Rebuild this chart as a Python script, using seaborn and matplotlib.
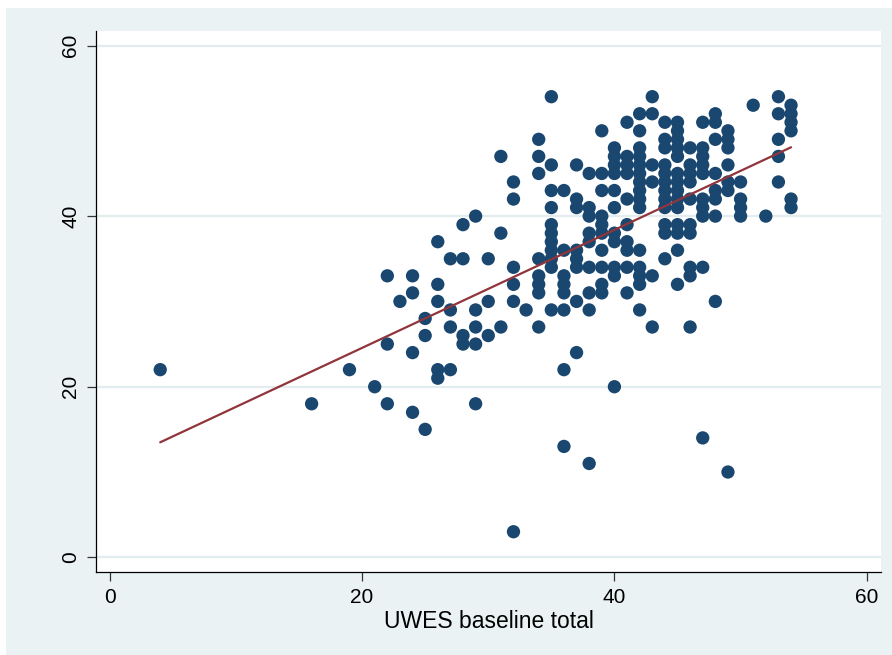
import numpy as np
import pandas as pd
import matplotlib
matplotlib.use("Agg")
import matplotlib.pyplot as plt
import seaborn as sns
from matplotlib.patches import Rectangle

# UWES baseline total (x) and follow-up total (y), one list per x value
points = {
    4: [22],
    16: [18],
    19: [22],
    21: [20],
    22: [33, 25, 18],
    23: [30],
    24: [33, 31, 24, 17],
    25: [28, 26, 15],
    26: [37, 32, 30, 22, 21],
    27: [35, 29, 27, 22],
    28: [39, 35, 26, 25],
    29: [40, 29, 27, 25, 18],
    30: [35, 30, 26],
    31: [47, 38, 27],
    32: [44, 42, 34, 32, 30, 3],
    33: [29],
    34: [49, 47, 45, 35, 33, 32, 31, 27],
    35: [54, 46, 43, 41, 39, 38, 37, 36, 35, 34, 29],
    36: [43, 36, 33, 32, 31, 29, 22, 13],
    37: [46, 42, 41, 36, 35, 34, 30, 24],
    38: [45, 41, 40, 38, 37, 34, 31, 29, 11],
    39: [50, 45, 43, 40, 39, 38, 36, 34, 32, 31],
    40: [48, 47, 46, 45, 43, 41, 38, 37, 34, 33, 20],
    41: [51, 47, 46, 45, 42, 39, 37, 36, 34, 31],
    42: [52, 50, 48, 47, 46, 45, 44, 43, 42, 41, 36, 34, 33, 32, 29],
    43: [54, 52, 46, 44, 33, 27],
    44: [51, 49, 48, 46, 45, 44, 43, 42, 41, 39, 38, 35],
    45: [51, 50, 49, 48, 47, 45, 44, 43, 42, 41, 39, 38, 36, 32],
    46: [48, 46, 45, 44, 42, 39, 38, 34, 33, 27],
    47: [51, 48, 47, 46, 45, 42, 41, 40, 34, 14],
    48: [52, 51, 49, 45, 43, 42, 40, 30],
    49: [50, 49, 48, 46, 44, 43, 10],
    50: [44, 42, 41, 40],
    51: [53],
    52: [40],
    53: [54, 52, 49, 47, 44],
    54: [53, 52, 51, 50, 42, 41],
}
baseline = [x for x, ys in points.items() for _ in ys]
followup = [y for ys in points.values() for y in ys]

x_ticks = [0, 20, 40, 60]
y_ticks = [0, 20, 40, 60]
x_label = "UWES baseline total"

df = pd.DataFrame({"baseline": baseline, "followup": followup})

BG = "#EAF2F3"
GRID = "#E3EDEF"
NAVY = "#1A476F"
MAROON = "#90353B"

sns.set_theme(style="white")
plt.rcParams["font.family"] = ["Liberation Sans", "DejaVu Sans"]

fig = plt.figure(figsize=(8.92, 6.55), dpi=100, facecolor="white")
fig.patches.append(Rectangle((6 / 892, 0), 1, 1 - 8 / 655, transform=fig.transFigure,
                             facecolor=BG, edgecolor="none", zorder=-10))
ax = fig.add_axes([96 / 892, 1 - 572 / 655, (881 - 96) / 892, (572 - 31) / 655])
ax.set_facecolor("white")

sns.scatterplot(data=df, x="baseline", y="followup", ax=ax, color=NAVY,
                s=92, linewidth=0, edgecolor="none", zorder=3)
sns.regplot(data=df, x="baseline", y="followup", ax=ax, scatter=False, ci=None,
            truncate=True, line_kws={"color": MAROON, "lw": 1.6, "zorder": 4})

ax.set_xlim(-1.09, 61.13)
ax.set_ylim(-1.72, 61.7)
ax.set_xticks(x_ticks)
ax.set_yticks(y_ticks)
ax.set_xticklabels([str(t) for t in x_ticks])
ax.set_yticklabels([str(t) for t in y_ticks], rotation=90, va="center")
ax.yaxis.grid(True, color=GRID, lw=1.6, zorder=0)
ax.xaxis.grid(False)
ax.set_axisbelow(True)

for side in ["top", "right"]:
    ax.spines[side].set_visible(False)
for side in ["left", "bottom"]:
    ax.spines[side].set_color("#000000")
    ax.spines[side].set_linewidth(0.9)

ax.tick_params(axis="both", which="major", direction="out", length=6.5, width=0.9,
               color="#333333", labelsize=15, labelcolor="black", pad=5,
               bottom=True, left=True)
ax.set_xlabel(x_label, fontsize=16.5, color="black", labelpad=2)
ax.set_ylabel("")

fig.savefig("out.png", dpi=100, facecolor=fig.get_facecolor())
